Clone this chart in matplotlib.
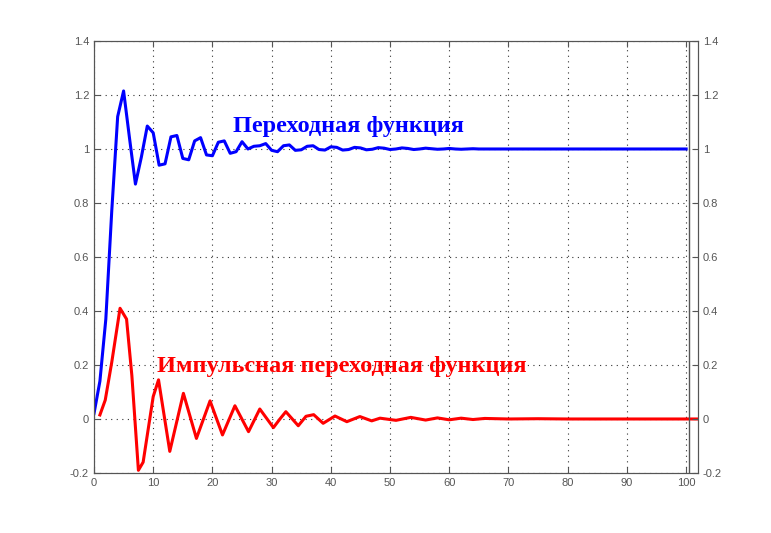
import matplotlib
matplotlib.use('Agg')
import matplotlib.pyplot as plt
from matplotlib.ticker import FixedLocator

# переходная функция (отсчёты 0..100)
step_x = list(range(0, 101))
step_y = [0.02, 0.14, 0.37, 0.77, 1.12, 1.215, 1.04, 0.87, 0.97, 1.085,
          1.06, 0.94, 0.945, 1.045, 1.05, 0.965, 0.96, 1.03, 1.042, 0.978,
          0.975, 1.025, 1.03, 0.984, 0.99, 1.027, 1.0, 1.01, 1.012, 1.02,
          0.995, 0.99, 1.012, 1.015, 0.995, 0.997, 1.01, 1.012, 0.998, 0.996,
          1.008, 1.006, 0.996, 0.998, 1.006, 1.004, 0.997, 0.999, 1.005, 1.003,
          0.998, 1.0, 1.004, 1.002, 0.998, 1.0, 1.003, 1.001, 0.999, 1.0,
          1.002, 1.0, 0.999, 1.0, 1.001, 1.0, 1.0, 1.0, 1.0, 1.0,
          1.0, 1.0, 1.0, 1.0, 1.0, 1.0, 1.0, 1.0, 1.0, 1.0,
          1.0, 1.0, 1.0, 1.0, 1.0, 1.0, 1.0, 1.0, 1.0, 1.0,
          1.0, 1.0, 1.0, 1.0, 1.0, 1.0, 1.0, 1.0, 1.0, 1.0,
          1.0]

# импульсная переходная функция
imp_x = [1.0, 1.9, 3.0, 4.4, 5.5, 6.4, 7.5, 8.3, 10.0, 10.9,
         12.8, 15.1, 17.3, 19.6, 21.7, 23.8, 26.1, 28.0, 30.3, 31.4,
         32.4, 34.5, 35.8, 37.1, 38.7, 40.7, 42.7, 44.9, 46.9, 48.3,
         51, 53.5, 56, 58, 60, 62, 64, 66, 70, 75, 80, 102]
imp_y = [0.015, 0.07, 0.21, 0.41, 0.37, 0.16, -0.19, -0.16, 0.083, 0.145,
         -0.12, 0.095, -0.072, 0.067, -0.059, 0.049, -0.047, 0.037, -0.032, 0.0,
         0.027, -0.025, 0.01, 0.016, -0.016, 0.011, -0.01, 0.009, -0.007, 0.003,
         -0.005, 0.006, -0.004, 0.004, -0.003, 0.003, -0.002, 0.002, 0.0, 0.001, 0.0, 0.0]

xticks = [0, 10, 20, 30, 40, 50, 60, 70, 80, 90, 100]
yticks = [-0.2, 0, 0.2, 0.4, 0.6, 0.8, 1, 1.2, 1.4]
ylabels = ['-0.2', '0', '0.2', '0.4', '0.6', '0.8', '1', '1.2', '1.4']

grey = '#555555'
plt.rcParams['font.family'] = ['Liberation Sans', 'DejaVu Sans']

fig = plt.figure(figsize=(7.71, 5.33), dpi=100)
ax = fig.add_axes([0.1219, 0.1126, 0.7834, 0.8105])

ax.plot(step_x, step_y, color='#0000ff', lw=2.2)
ax.plot(imp_x, imp_y, color='#ff0000', lw=2.2)
ax.axvline(100.5, color=grey, lw=1)

ax.set_xlim(0, 102)
ax.set_ylim(-0.2, 1.4)
ax.xaxis.set_major_locator(FixedLocator(xticks))
ax.set_yticks(yticks)
ax.set_yticklabels(ylabels)
ax.grid(True, color='#333333', linestyle=(0, (1, 4)), lw=0.8)
ax.tick_params(direction='in', length=4, colors=grey, labelsize=8,
               top=True, right=True, labelcolor=grey)
for s in ax.spines.values():
    s.set_color(grey)

ax2 = ax.twinx()
ax2.set_ylim(-0.2, 1.4)
ax2.set_yticks(yticks)
ax2.set_yticklabels(ylabels)
ax2.tick_params(direction='in', length=4, colors=grey, labelsize=8, labelcolor=grey)
for s in ax2.spines.values():
    s.set_color(grey)

ax.text(23.5, 1.085, 'Переходная функция', color='#0000ff',
        fontsize=17.5, fontweight='bold', family='Liberation Serif', va='center')
ax.text(10.6, 0.196, 'Импульсная переходная функция', color='#ff0000',
        fontsize=17.5, fontweight='bold', family='Liberation Serif', va='center')

fig.savefig('out.png', dpi=100)
